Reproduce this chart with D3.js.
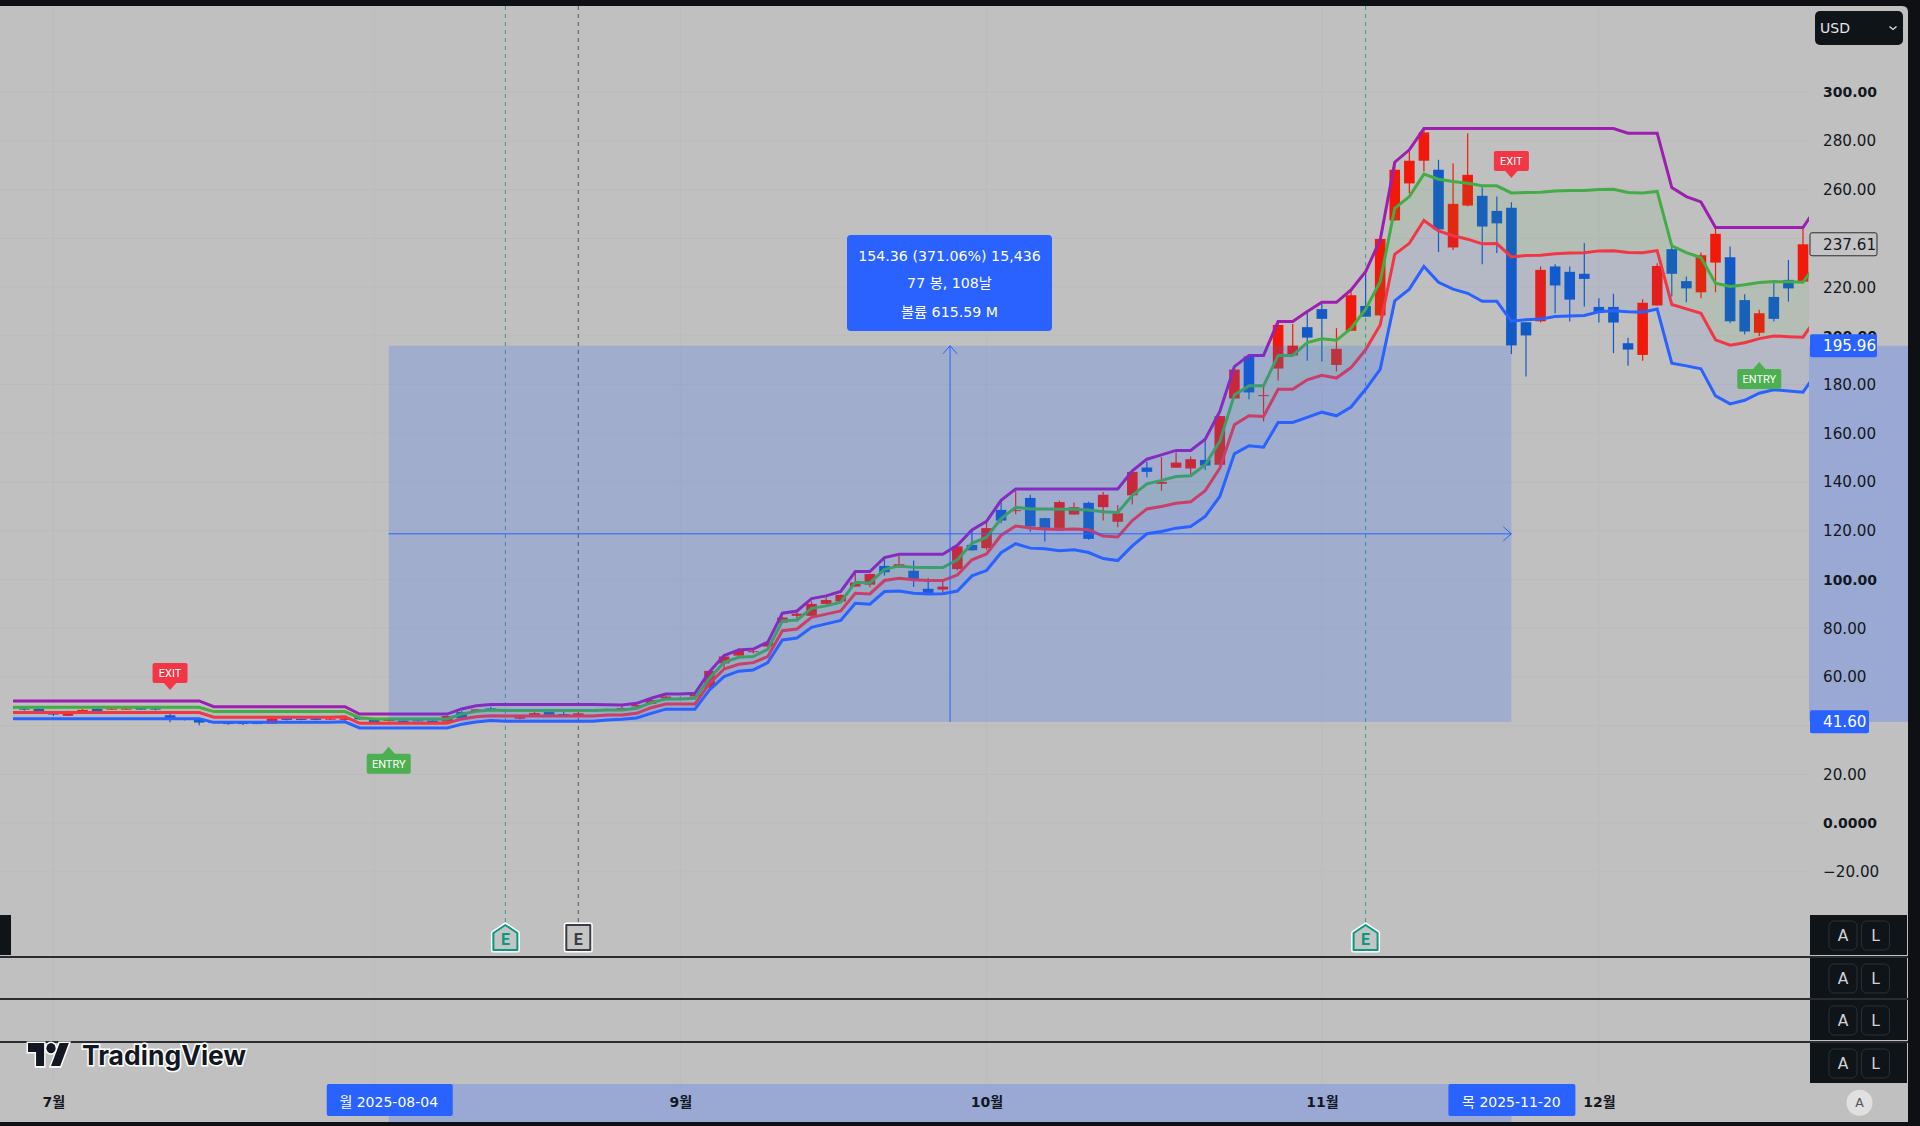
<!DOCTYPE html>
<html>
<head>
<meta charset="utf-8">
<script src="https://cdnjs.cloudflare.com/ajax/libs/d3/7.9.0/d3.min.js"></script>
<style>
  html, body { margin: 0; padding: 0; background: #0e1013; }
  svg { display: block; font-family: "DejaVu Sans", "Noto Sans CJK KR", sans-serif; }
  .priceAxis text { font-family: "DejaVu Sans", sans-serif; font-size: 15.2px; fill: #131722; }
  .monthAxis text { font-family: "DejaVu Sans", "Noto Sans CJK KR", sans-serif; font-size: 14px; font-weight: bold; fill: #131722; }
</style>
</head>
<body>
<div id="chart"></div>
<script>
// candles, oldest first (Jul 2025 -> late Dec 2025)
var opens = [47.6,47.1,47,45,44.1,45.6,47,46.8,46.8,47.3,47,44.3,42.9,42.8,41.5,41.1,41.1,41.1,40.9,43,42.8,43,42.5,42.4,
  43.5,42.4,42,42.1,42.2,42.1,41.7,45.6,45.8,47.1,46.7,42.9,44.3,45.6,44.8,44.3,46.2,46.4,46.8,47.9,49,51.3,51.2,52,55.8,65.6,
  68.8,70.2,72.5,82.3,85.1,85.1,90,91,97.1,97.9,105.6,105,103.6,96.2,95.9,104.3,114.2,112.9,128.6,128.2,133.5,125.2,121.2,126.7,
  131.5,129.7,123.7,134.6,146,139.3,145.9,145.6,149.1,147.1,174.3,191.6,175.3,186.6,192,203.6,211,188.1,202.1,212.3,208.4,247.4,262.6,271.9,
  268.2,236.3,253.5,257.5,251.3,252.6,205.6,206,228.5,226.3,225.5,211.9,211.9,197,192.2,212.5,235.6,222.5,217.9,230.1,232.3,214.7,201.3,216,223,222.3];
var highs = [48,47.6,47.2,45.3,46.2,46.9,47.1,47.9,47.8,47.5,47.9,44.9,43.1,42.9,41.7,41.3,41.3,41.3,43.1,43.2,43,43.1,43,43.2,
  44,42.6,42.6,42.3,42.4,42.3,44.2,46,46.9,47.9,47,43.7,45.8,45.8,45.6,45.5,46.6,47,48.2,48.8,51.3,52.4,52,52.9,62.5,68.8,
  71.8,71.4,75,84.8,86.9,91,92.7,93.9,102.9,102.4,108.3,109.7,107.8,100.6,99.9,113.7,120.4,123.8,132,136.5,134.8,125.4,132.4,131.6,
  132,135.9,130.5,144.4,148.4,150.2,152.3,150.5,157.3,167.2,187.4,192,180,204.6,204.9,210,213.4,203.2,218.9,227.1,239.8,270.2,276.4,284.6,
  272.3,270.9,283.2,261,257.2,254.9,205.6,228.5,229.4,228.5,238.1,215.5,217.3,199.2,215,229.8,237.8,224.4,234.2,244.2,236.7,217.1,210.7,221.9,231.2,244.2];
var lows = [46.8,46.2,45.6,44,44,45.5,45,46.6,46.5,46.5,46.3,41.4,42.2,40.2,41,40.4,40.3,40.7,40.7,42.2,42.3,42.3,42.3,42.2,
  42.4,41.3,41.6,41.3,41.8,41.4,41.6,42.9,45.6,46.6,46.3,42.7,44.2,44.2,44,44.1,45.9,46.2,46.7,47.7,48.8,51.1,50.9,51.8,55,63.6,
  68.7,69.7,72.4,82.2,82.7,84.8,89.9,90.8,97,96.8,101.6,104.9,96.9,94.3,94.8,103.7,111.9,112.2,123.1,126.8,119.6,115.6,120.4,126.6,
  116.3,124.2,121.5,130.8,141.9,136.5,145.8,143,145,147,174.2,174,164.9,181.7,191.9,189.8,189.5,185.4,202.1,207.9,208.4,247.4,258.6,267.5,
  234.4,235.3,253.1,229.4,234,192.6,183.3,205.5,209.3,205.9,212.1,205.5,192.9,187.8,189.8,212.5,216.2,213.8,215.5,217.9,205.2,200.6,200,205.9,214.1,222.3];
var closes = [47,46.6,45.8,44.7,46,46.5,45.2,47,47,46.6,46.8,42.4,42.5,41.3,41.3,40.9,40.9,40.9,42.9,42.4,42.6,42.4,42.9,43,
  42.6,41.5,42.4,41.5,41.9,41.5,44,43,46.7,46.7,46.5,43.5,45.2,44.5,44.3,45.1,46,46.6,47.3,48.5,50.6,52,51.4,52.7,62.5,68.4,
  70.7,70.6,74.1,84.4,86,90,91.6,93.7,98.8,102.3,103,106.3,100.3,94.4,97.1,113.6,112,121.1,124.2,128.5,121.8,121.2,131.8,129.7,
  116.7,134.8,127.2,144.2,144.2,140.1,148,149.4,146.8,167.1,186.2,176.8,175.7,204.5,196,199.3,207,194.7,216.7,207.9,239.8,268.2,271.9,283.5,
  243.7,254.2,266.1,244.9,246.2,196.1,200.2,227.1,220.7,214.9,223.4,209.7,205.5,194.4,213.6,228.7,225.5,219.5,233.1,241.9,206,201.8,209.3,207,219.5,237.61];

// band lines, one more point than candles (next bar sits behind the price scale)
var upperBand = [50.2,50.2,50.2,50.2,50.2,50.2,50.2,50.2,50.2,50.2,50.2,50.2,50.2,50.2,47.8,47.8,47.8,47.8,47.8,47.8,47.8,47.8,47.8,47.8,
  44.8,44.8,44.8,44.8,44.8,44.8,44.8,46.9,48.2,48.7,48.7,48.7,48.7,48.7,48.7,48.7,48.7,48.6,48.5,49.2,51.3,53.05,53.05,53.3,62.2,68.8,
  71.1,71.5,74.3,86.2,87.1,92.2,93.3,95.1,103.3,103.3,109,110.4,110.4,110.4,110.4,114.1,120.4,123.9,132.5,137.2,137.2,137.2,137.2,137.2,
  137.2,137.2,137.2,144.6,149.4,151.2,153,153,157.6,169,187.4,192,192,205.9,205.9,210,213.8,213.8,218.9,226.4,239.4,271.3,276.4,285.1,
  285.1,285.1,285.1,285.1,285.1,285.1,285.1,285.1,285.1,285.1,285.1,285.1,285.1,283.2,283.2,283.2,260.9,257.2,255,244.5,244.5,244.5,244.5,244.5,244.5,244.5,253.4];
var midLine = [47.6,47.6,47.6,47.6,47.6,47.6,47.6,47.6,47.6,47.6,47.6,47.6,47.6,47.6,45.8,45.8,45.8,45.8,45.8,45.8,45.8,45.8,45.8,45.8,
  43.3,42.8,42.8,42.8,42.8,42.8,42.8,44.8,45.9,46.5,46.3,46.3,46.3,46.3,46.3,46.3,46.3,46.5,46.5,47.2,49.5,51,51,51.3,59.5,66,
  68.1,68.4,71.4,83,83.4,88.2,89.2,90.7,98.9,98.6,104.2,105.6,105,104.9,104.9,108.1,114.9,117.4,125,129.7,129,129,128.9,128.9,
  128.5,127.8,127.5,134.6,139.3,140.7,142.3,142.6,147.1,156.7,175.8,179.5,179.5,192,192,197.3,198.8,198.2,203.1,211,222.3,252.4,257.2,266.4,
  264.3,263.4,262.7,261.6,261.6,258.7,258.9,259,259.5,259.7,259.7,260.1,260.2,258.9,258.7,259.3,237,234.2,232.2,221.6,220.3,221,221.9,222.3,222.2,222,230.5];
var lowerRed = [45.4,45.4,45.4,45.4,45.4,45.4,45.4,45.4,45.4,45.4,45.4,45.4,45.4,45.4,43.5,43.5,43.5,43.5,43.5,43.5,43.5,43.5,43.5,43.7,
  41,41,41,41,41,41,41,42.8,43.7,44.1,44,44,44,44,44,44,44,44.4,44.4,45.1,47.4,48.9,48.9,48.9,57.4,63.3,
  65.2,65.9,68.4,79,79.7,84.5,85.8,87.1,94.4,94.1,99.6,100.5,99.9,99.6,99.6,101.9,108.1,110.5,118.2,122,121.2,120.8,120.5,120.8,
  120.4,117.9,117.5,124.2,129,130,131.3,131.9,136.5,145.7,163.5,167.2,166.9,178.1,178.1,182,183.8,182.7,187,194.3,204.5,233.5,238,247.4,
  243.1,241.1,239.7,237.8,237.9,232.4,233,233.1,233.7,234,234.1,234.9,235,234.2,234.1,235,212.9,211.1,209.3,198.4,196.2,197.2,198.9,200,199.7,199.5,208];
var lowerBlue = [42.9,42.9,42.9,42.9,42.9,42.9,42.9,42.9,42.9,42.9,42.9,42.9,42.9,42.9,41.4,41.4,41.4,41.4,41.4,41.4,41.4,41.4,41.4,41.6,
  39.1,39.1,39.1,39.1,39.1,39.1,39.1,40.6,41.5,42.1,41.8,41.8,41.8,41.8,41.8,41.8,41.8,42.4,42.7,43.2,45.1,46.8,46.8,46.8,54.7,60.2,
  62.4,62.9,65.9,75.2,76,80.4,81.8,83.2,90.3,89.9,95.1,95.3,94.4,94.1,94.2,95.3,101.5,103.7,111,114.7,112.9,112.6,111.8,112.2,
  111.1,108.6,107.8,113.8,118.8,119.7,121.1,121.8,125.9,134.1,151.6,154.9,154.3,164.5,164.5,166.6,168.7,167.2,170.8,178.1,186.3,214.4,219.2,228.5,
  222,219.2,217.5,214.2,214.2,206,206.6,206.9,208,208.2,208.4,209.9,210.3,209.9,209.7,211,188.8,187.7,186.5,175.4,172.1,173.6,176.5,177.9,177.4,176.9,185.4];

// 240 and 40 sit behind the last-price and range labels, so they only get a grid line
var gridTicks = [300,280,260,240,220,200,180,160,140,120,100,80,60,40,20,0,-20];
var priceTicks = [300,280,260,220,200,180,160,140,120,100,80,60,20,0,-20];
var boldTicks = [300,200,100,0];
var monthBars = [3,25,46,67,90,109];
// Aug sits behind the range date label
var labelBars = [3,46,67,90,109];
var monthLabels = ["7월","9월","10월","11월","12월"];
var earningsBars = [34,39,93];
var exitBars = [11,103], exitPrices = [54.7,264.8];
var entryBars = [26,120], entryPrices = [31.4,189.3];

var measureFromBar = 26, measureToBar = 103;
var measureLow = 41.60, measureHigh = 195.96, lastPrice = 237.61;
var measureText = ["154.36 (371.06%) 15,436", "77 봉, 108날", "볼륨 615.59 M"];

var upColor = "#f2190a", downColor = "#1259c8", bgColor = "#c0c0c0", gridColor = "#bbbbbb",
    tvBlue = "#2962ff", darkBox = "#0e1417", rangeBand = "#9aa9d3";

var width = 1920, height = 1126;
var paneRight = 1809, chartRight = 1908, paneTop = 6, paneBottom = 955, axisBottom = 1122;

var svg = d3.select("#chart").append("svg")
  .attr("width", width)
  .attr("height", height);

var x = d3.scaleLinear().domain([0, 123]).range([9.66, 1803]);
var y = d3.scaleLinear().domain([0, 280]).range([823.2, 141]);

// frame
svg.append("rect").attr("width", width).attr("height", height).attr("fill", "#0e1013");
svg.append("path")
  .attr("d", "M0," + paneTop + "H" + (chartRight - 6) + "Q" + chartRight + "," + paneTop + " " + chartRight + "," + (paneTop + 6) + "V" + axisBottom + "H0Z")
  .attr("fill", bgColor);

svg.append("clipPath").attr("id", "paneClip").append("rect")
  .attr("x", 13).attr("y", paneTop).attr("width", paneRight - 13).attr("height", paneBottom - paneTop);

// grid
svg.append("g").selectAll("line")
  .data(gridTicks)
  .enter().append("line")
  .attr("x1", 0).attr("x2", paneRight)
  .attr("y1", function(d) { return y(d); })
  .attr("y2", function(d) { return y(d); })
  .style("stroke", gridColor);

svg.append("g").selectAll("line")
  .data(monthBars)
  .enter().append("line")
  .attr("x1", function(d) { return x(d); })
  .attr("x2", function(d) { return x(d); })
  .attr("y1", paneTop).attr("y2", 1084)
  .style("stroke", gridColor);

// earnings lines under the series
var earnColors = ["#089981", "#3a3d45", "#089981"];
svg.append("g").selectAll("line")
  .data(earningsBars)
  .enter().append("line")
  .attr("x1", function(d) { return x(d); })
  .attr("x2", function(d) { return x(d); })
  .attr("y1", paneTop).attr("y2", 923)
  .style("stroke", function(d, i) { return earnColors[i]; })
  .style("stroke-opacity", 0.8)
  .style("stroke-dasharray", "4 4");

var series = svg.append("g").attr("clip-path", "url(#paneClip)");

// candles
var candle = series.append("g").selectAll("g")
  .data(opens)
  .enter().append("g");

candle.append("line")
  .attr("x1", function(d, i) { return x(i); })
  .attr("x2", function(d, i) { return x(i); })
  .attr("y1", function(d, i) { return y(highs[i]); })
  .attr("y2", function(d, i) { return y(lows[i]); })
  .style("stroke", function(d, i) { return closes[i] >= d ? upColor : downColor; })
  .style("stroke-width", 1.2);

candle.append("rect")
  .attr("x", function(d, i) { return x(i) - 5.3; })
  .attr("width", 10.6)
  .attr("y", function(d, i) { return y(Math.max(d, closes[i])); })
  .attr("height", function(d, i) { return Math.max(1, Math.abs(y(d) - y(closes[i]))); })
  .attr("fill", function(d, i) { return closes[i] >= d ? upColor : downColor; });

// band fills
function bandArea(top, bottom) {
  return d3.area()
    .x(function(d, i) { return x(i); })
    .y0(function(d, i) { return y(bottom[i]); })
    .y1(function(d, i) { return y(top[i]); })(top);
}
series.append("path").attr("d", bandArea(midLine, lowerRed)).attr("fill", "#4caf50").attr("fill-opacity", 0.1);
series.append("path").attr("d", bandArea(lowerRed, lowerBlue)).attr("fill", tvBlue).attr("fill-opacity", 0.08);

// band lines
var line = d3.line()
  .x(function(d, i) { return x(i); })
  .y(function(d) { return y(d); });

[[upperBand, "#9c1fb0"], [midLine, "#43ac47"], [lowerRed, "#f23645"], [lowerBlue, "#2962ff"]].forEach(function(s) {
  series.append("path")
    .attr("d", line(s[0]))
    .attr("fill", "none")
    .style("stroke", s[1])
    .style("stroke-width", 3)
    .style("stroke-linejoin", "miter");
});

// measure box
var mx1 = x(measureFromBar), mx2 = x(measureToBar), my1 = y(measureHigh), my2 = y(measureLow);
var midX = (mx1 + mx2) / 2, midY = (my1 + my2) / 2;

svg.append("rect")
  .attr("x", mx1).attr("y", my1)
  .attr("width", mx2 - mx1).attr("height", my2 - my1)
  .attr("fill", tvBlue).attr("fill-opacity", 0.2);

var measure = svg.append("g").style("stroke", tvBlue).style("fill", "none");
measure.append("line").attr("x1", midX).attr("x2", midX).attr("y1", my1).attr("y2", my2);
measure.append("line").attr("x1", mx1).attr("x2", mx2).attr("y1", midY).attr("y2", midY);
measure.append("path").attr("d", "M" + (midX - 7) + "," + (my1 + 8) + "L" + midX + "," + my1 + "L" + (midX + 7) + "," + (my1 + 8));
measure.append("path").attr("d", "M" + (mx2 - 8) + "," + (midY - 7) + "L" + mx2 + "," + midY + "L" + (mx2 - 8) + "," + (midY + 7));

svg.append("rect")
  .attr("x", 847).attr("y", 235).attr("width", 205).attr("height", 96).attr("rx", 4)
  .attr("fill", tvBlue);

svg.append("g").selectAll("text")
  .data(measureText)
  .enter().append("text")
  .attr("x", 949.5)
  .attr("y", function(d, i) { return [256, 283, 312][i]; })
  .attr("dy", "0.36em")
  .attr("text-anchor", "middle")
  .attr("fill", "#ffffff")
  .attr("font-size", 14.2)
  .text(function(d) { return d; });

// entry / exit flags
function flag(bar, price, label, color, w, dir) {
  var tx = x(bar), ty = y(price);
  var g = svg.append("g");
  var top = dir > 0 ? ty - 27 : ty + 7;
  g.append("rect")
    .attr("x", tx - w / 2).attr("y", top)
    .attr("width", w).attr("height", 20).attr("rx", 2)
    .attr("fill", color);
  var base = dir > 0 ? ty - 8 : ty + 8;
  g.append("path")
    .attr("d", "M" + (tx - 7) + "," + base + "L" + tx + "," + ty + "L" + (tx + 7) + "," + base + "Z")
    .attr("fill", color);
  g.append("text")
    .attr("x", tx).attr("y", top + 10).attr("dy", "0.36em")
    .attr("text-anchor", "middle")
    .attr("fill", "#ffffff")
    .attr("font-family", "Roboto, sans-serif")
    .attr("font-size", 11)
    .text(label);
}
exitBars.forEach(function(b, i) { flag(b, exitPrices[i], "EXIT", "#f23645", 35, 1); });
entryBars.forEach(function(b, i) { flag(b, entryPrices[i], "ENTRY", "#4caf50", 44, -1); });

// lower panes
[956, 998, 1041].forEach(function(py) {
  svg.append("rect").attr("x", 0).attr("y", py).attr("width", chartRight).attr("height", 2).attr("fill", "#2a2c30");
});
svg.append("rect").attr("x", 0).attr("y", 915).attr("width", 11).attr("height", 40).attr("fill", darkBox);

// earnings badges
earningsBars.forEach(function(b, i) {
  var bx = x(b), c = earnColors[i];
  var d = i == 1
    ? "M" + (bx - 12) + ",925H" + (bx + 12) + "V950H" + (bx - 12) + "Z"
    : "M" + bx + ",925L" + (bx + 12) + ",933V950H" + (bx - 12) + "V933Z";
  svg.append("path").attr("d", d).attr("fill", "none").style("stroke", "#ffffff").style("stroke-width", 5).style("stroke-linejoin", "round");
  svg.append("path").attr("d", d).attr("fill", "#c4c4c4").style("stroke", c).style("stroke-width", 2).style("stroke-linejoin", "round");
  svg.append("text")
    .attr("x", bx).attr("y", 939).attr("dy", "0.36em")
    .attr("text-anchor", "middle").attr("font-family", "Roboto, sans-serif").attr("font-weight", "bold").attr("font-size", 16)
    .attr("fill", c).text("E");
});

// price axis
var priceAxis = d3.axisRight(y)
  .tickValues(priceTicks)
  .tickSize(0)
  .tickPadding(0)
  .tickFormat(function(d) {
    if (d == 0) return "0.0000";
    return d < 0 ? "\u2212" + d3.format(".2f")(-d) : d3.format(".2f")(d);
  });

svg.append("rect")
  .attr("x", paneRight).attr("y", my1)
  .attr("width", chartRight - paneRight).attr("height", my2 - my1)
  .attr("fill", rangeBand);

var pa = svg.append("g").attr("class", "priceAxis")
  .attr("transform", "translate(1823,0)")
  .call(priceAxis);
pa.select(".domain").remove();
pa.selectAll("text")
  .style("font-weight", function(d) { return boldTicks.indexOf(d) >= 0 ? "bold" : "normal"; })
  .style("font-size", function(d) { return boldTicks.indexOf(d) >= 0 ? "14px" : "15.2px"; });

function priceLabel(v, w, fill, stroke, color) {
  var py = y(v);
  svg.append("rect")
    .attr("x", 1810).attr("y", py - 11.5).attr("width", w).attr("height", 23).attr("rx", 2)
    .attr("fill", fill).style("stroke", stroke);
  svg.append("text")
    .attr("x", 1823).attr("y", py).attr("dy", "0.36em")
    .attr("font-size", 15.2)
    .attr("fill", color)
    .text(d3.format(".2f")(v));
}
priceLabel(lastPrice, 67, "#c4c4c4", "#2a2c30", "#131722");
priceLabel(measureHigh, 67, tvBlue, "none", "#ffffff");
priceLabel(measureLow, 59, tvBlue, "none", "#ffffff");

// currency button
svg.append("rect").attr("x", 1815).attr("y", 11).attr("width", 88).attr("height", 34).attr("rx", 5).attr("fill", darkBox);
svg.append("text").attr("x", 1820).attr("y", 28).attr("dy", "0.36em").attr("font-size", 14).attr("fill", "#e6e6e6").text("USD");
svg.append("path").attr("d", "M1889.5,26.5L1893,29.5L1896.5,26.5").attr("fill", "none").style("stroke", "#e6e6e6").style("stroke-width", 1.3);

// A / L scale buttons
[915, 958, 1000, 1043].forEach(function(by) {
  svg.append("rect").attr("x", 1810).attr("y", by).attr("width", 97).attr("height", 40).attr("fill", darkBox);
  ["A", "L"].forEach(function(t, i) {
    var bx = 1829 + i * 32.5;
    svg.append("rect").attr("x", bx).attr("y", by + 6).attr("width", 28).attr("height", 29).attr("rx", 5)
      .attr("fill", "none").style("stroke", "#2c3035");
    svg.append("text").attr("x", bx + 14).attr("y", by + 20.5).attr("dy", "0.36em")
      .attr("text-anchor", "middle").attr("font-size", 15.5).attr("fill", "#d1d4dc").text(t);
  });
});

// time axis
svg.append("rect").attr("x", mx1).attr("y", 1084).attr("width", mx2 - mx1).attr("height", axisBottom - 1084).attr("fill", rangeBand);

var timeAxis = d3.axisBottom(x)
  .tickValues(labelBars)
  .tickSize(0)
  .tickPadding(0)
  .tickFormat(function(d, i) { return monthLabels[i]; });

var ta = svg.append("g").attr("class", "monthAxis")
  .attr("transform", "translate(0,1097)")
  .call(timeAxis);
ta.select(".domain").remove();

function dateLabel(bar, label, x0, w) {
  svg.append("rect").attr("x", x0).attr("y", 1084).attr("width", w).attr("height", 32).attr("rx", 2).attr("fill", tvBlue);
  svg.append("text")
    .attr("x", x(bar)).attr("y", 1102).attr("dy", "0.36em")
    .attr("text-anchor", "middle").attr("font-size", 14).attr("fill", "#ffffff")
    .text(label);
}
dateLabel(measureFromBar, "월 2025-08-04", mx1 - 62, 126);
dateLabel(measureToBar, "목 2025-11-20", mx2 - 63, 127);

// auto circle
svg.append("circle").attr("cx", 1859.5).attr("cy", 1102.7).attr("r", 13).attr("fill", "#e0e0e0");
svg.append("text").attr("x", 1859.5).attr("y", 1102.7).attr("dy", "0.36em")
  .attr("text-anchor", "middle").attr("font-size", 12.5).attr("fill", "#50535e").text("A");

// logo
var logo = svg.append("g").attr("transform", "translate(28,1037.9) scale(1.15,1.28)");
logo.append("path")
  .attr("d", "M14 22H7V11H0V4h14v18zM28 22h-8l7.5-18h8L28 22z")
  .attr("fill", "#131722").style("stroke", "#ffffff").style("stroke-width", 2.5).style("paint-order", "stroke");
logo.append("circle").attr("cx", 20).attr("cy", 8).attr("r", 4)
  .attr("fill", "#131722").style("stroke", "#ffffff").style("stroke-width", 2.5).style("paint-order", "stroke");
svg.append("text")
  .attr("x", 82).attr("y", 1065)
  .attr("font-family", "Inter, sans-serif").attr("font-weight", 700).attr("font-size", 26.5)
  .attr("fill", "#131722").style("stroke", "#ffffff").style("stroke-width", 3).style("paint-order", "stroke")
  .text("TradingView");
</script>
</body>
</html>
